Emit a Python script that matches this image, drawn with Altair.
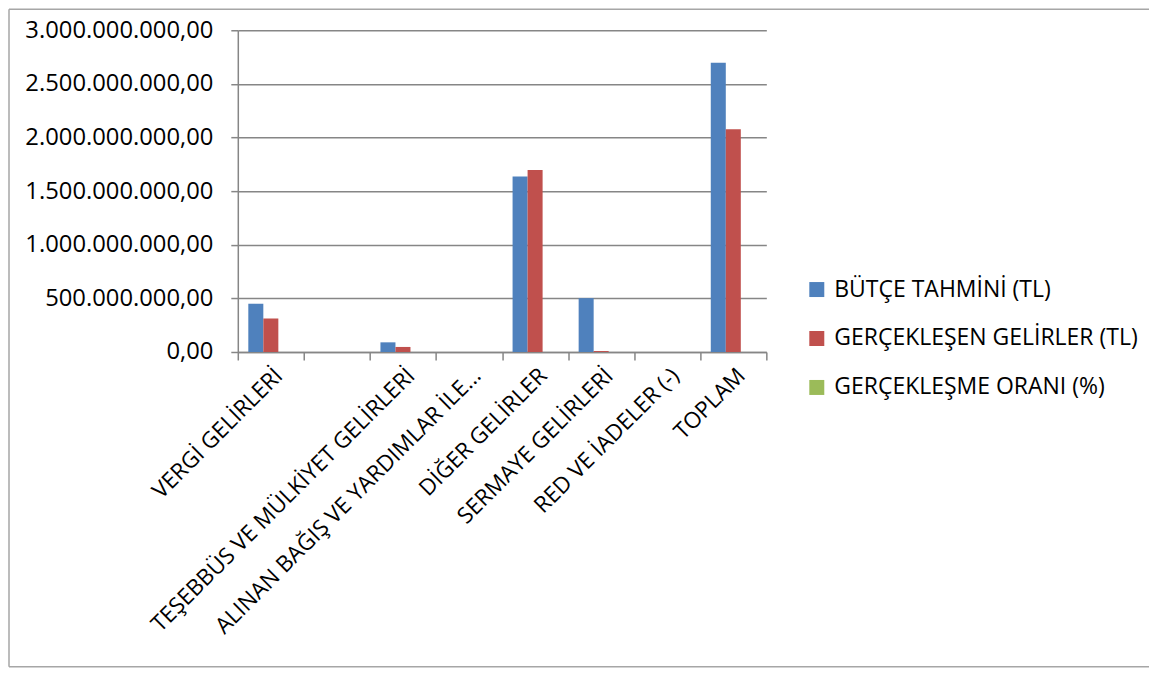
import altair as alt
import pandas as pd

categories = [
    "VERGİ GELİRLERİ",
    " ",
    "TEŞEBBÜS VE MÜLKİYET GELİRLERİ",
    "ALINAN BAĞIŞ VE YARDIMLAR İLE...",
    "DİĞER GELİRLER",
    "SERMAYE GELİRLERİ",
    "RED VE İADELER (-)",
    "TOPLAM",
]
series = ["BÜTÇE TAHMİNİ (TL)", "GERÇEKLEŞEN GELİRLER (TL)", "GERÇEKLEŞME ORANI (%)"]
butce = [450_000_000, 0, 90_000_000, 0, 1_637_000_000, 502_000_000, 0, 2_698_000_000]
gerceklesen = [313_000_000, 0, 47_000_000, 0, 1_697_000_000, 9_000_000, 0, 2_078_000_000]
oran = [69.6, 0, 52.2, 0, 103.7, 1.8, 0, 77.0]
colors = ["#4F81BD", "#C0504D", "#9BBB59"]
y_ticks = [0, 500_000_000, 1_000_000_000, 1_500_000_000, 2_000_000_000, 2_500_000_000, 3_000_000_000]

rows = []
for i, c in enumerate(categories):
    for s, vals in zip(series, [butce, gerceklesen, oran]):
        rows.append({"kategori": c, "seri": s, "deger": vals[i]})
df = pd.DataFrame(rows)

FONT = "Open Sans"
GRAY = "#868686"

label_expr = r"replace(replace(replace(format(datum.value, ',.2f'), /,/g, '_'), /\./g, ','), /_/g, '.')"

bars = alt.Chart(df).mark_bar().encode(
    x=alt.X(
        "kategori:N",
        sort=categories,
        scale=alt.Scale(paddingInner=0, paddingOuter=0),
        axis=alt.Axis(
            title=None,
            labelAngle=-45,
            labelFont=FONT,
            labelFontSize=22.5,
            labelColor="#000000",
            labelLimit=1000,
            tickBand="extent",
            tickSize=8,
            tickColor=GRAY,
            tickWidth=1.5,
            domainColor=GRAY,
            domainWidth=1.5,
            labelPadding=4,
            labelOverlap=False,
        ),
    ),
    xOffset=alt.XOffset(
        "seri:N", sort=series, scale=alt.Scale(paddingInner=0, paddingOuter=0.7)
    ),
    y=alt.Y(
        "deger:Q",
        scale=alt.Scale(domain=[0, 3_000_000_000], nice=False),
        axis=alt.Axis(
            title=None,
            values=y_ticks,
            labelExpr=label_expr,
            labelFont=FONT,
            labelFontSize=23.8,
            labelColor="#000000",
            labelLimit=1000,
            labelPadding=18,
            tickSize=7,
            tickColor=GRAY,
            tickWidth=1.5,
            domainColor=GRAY,
            domainWidth=1.5,
            grid=True,
            gridColor=GRAY,
            gridWidth=1.5,
        ),
    ),
    color=alt.Color(
        "seri:N",
        sort=series,
        scale=alt.Scale(domain=series, range=colors),
        legend=alt.Legend(
            title=None,
            orient="none",
            legendX=568,
            legendY=248,
            symbolType="square",
            symbolSize=225,
            symbolStrokeWidth=0,
            labelFont=FONT,
            labelFontSize=23,
            labelColor="#000000",
            labelLimit=1000,
            labelOffset=6,
            rowPadding=25,
        ),
    ),
)

frame_df = pd.DataFrame({"k": [0]})
left = alt.Chart(frame_df).mark_rule(color="#A6A6A6", strokeWidth=1.5).encode(
    x=alt.value(-229), y=alt.value(-21), y2=alt.value(637)
)
top = alt.Chart(frame_df).mark_rule(color="#A6A6A6", strokeWidth=1.5).encode(
    x=alt.value(-229), x2=alt.value(912), y=alt.value(-21)
)
bottom = alt.Chart(frame_df).mark_rule(color="#A6A6A6", strokeWidth=1.5).encode(
    x=alt.value(-229), x2=alt.value(912), y=alt.value(637)
)

chart = (
    alt.layer(bars, left, top, bottom)
    .properties(width=529, height=322, padding=0, background="white")
    .configure_view(stroke=None)
)

chart.save("out.html", embed_options={"renderer": "svg", "actions": False})
